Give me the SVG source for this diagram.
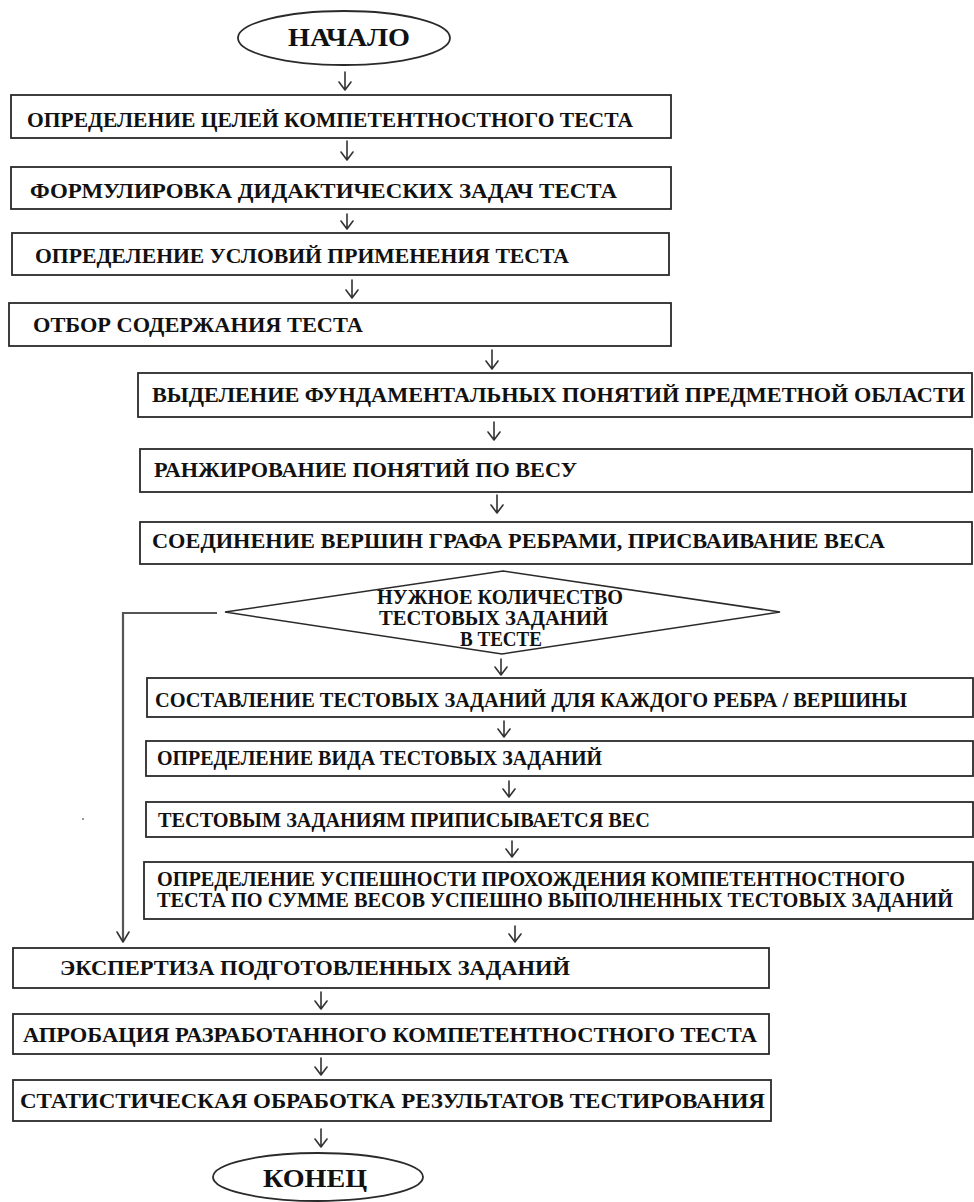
<svg xmlns="http://www.w3.org/2000/svg" width="974" height="1202" viewBox="0 0 974 1202">
<style>
.box{fill:#fff;stroke:#2a2a2a;stroke-width:1.8}
.t{font-family:'Liberation Serif','DejaVu Serif','Times New Roman',serif;font-weight:bold;fill:#111}
.s22{font-size:22px}
.s20{font-size:20px}
.s25{font-size:25px}
.arr{fill:none;stroke:#333;stroke-width:1.6;stroke-linecap:round;stroke-linejoin:round}
.fb{fill:none;stroke:#555;stroke-width:2.2}
</style>
<rect width="974" height="1202" fill="#fff"/>

<g id="connectors">
<path class="arr" d="M345,72 V90 M339,82 L345,90 L351,82"/>
<path class="arr" d="M347,141 V160 M341,152 L347,160 L353,152"/>
<path class="arr" d="M347,214 V229 M341,221 L347,229 L353,221"/>
<path class="arr" d="M352,280 V298 M346,290 L352,298 L358,290"/>
<path class="arr" d="M492,350 V369 M486,361 L492,369 L498,361"/>
<path class="arr" d="M494,422 V440 M488,432 L494,440 L500,432"/>
<path class="arr" d="M497,495 V513 M491,505 L497,513 L503,505"/>
<path class="arr" d="M501,659 V675 M495,667 L501,675 L507,667"/>
<path class="arr" d="M504,721 V737 M498,729 L504,737 L510,729"/>
<path class="arr" d="M509,781 V797 M503,789 L509,797 L515,789"/>
<path class="arr" d="M512,841 V857 M506,849 L512,857 L518,849"/>
<path class="arr" d="M515,926 V942 M509,934 L515,942 L521,934"/>
<path class="arr" d="M321,992 V1009 M315,1001 L321,1009 L327,1001"/>
<path class="arr" d="M321,1058 V1075 M315,1067 L321,1075 L327,1067"/>
<path class="arr" d="M321,1129 V1147 M315,1139 L321,1147 L327,1139"/>
<polyline class="fb" points="217,613 123,613 123,941"/>
<path class="arr" d="M117,932 L123,942 L129,932"/>
</g>

<g id="start">
<ellipse cx="344" cy="38" rx="106" ry="27" fill="#fff" stroke="#2a2a2a" stroke-width="1.8"/>
<text class="t s25" x="288" y="46" textLength="122" lengthAdjust="spacingAndGlyphs">НАЧАЛО</text>
</g>

<g id="n1">
<rect class="box" x="11" y="95" width="660" height="43"/>
<text class="t s22" x="27" y="127" textLength="606" lengthAdjust="spacingAndGlyphs">ОПРЕДЕЛЕНИЕ ЦЕЛЕЙ КОМПЕТЕНТНОСТНОГО ТЕСТА</text>
</g>
<g id="n2">
<rect class="box" x="11" y="167" width="660" height="42"/>
<text class="t s22" x="30" y="198" textLength="587" lengthAdjust="spacingAndGlyphs">ФОРМУЛИРОВКА ДИДАКТИЧЕСКИХ ЗАДАЧ ТЕСТА</text>
</g>
<g id="n3">
<rect class="box" x="12" y="233" width="657" height="42"/>
<text class="t s22" x="35" y="263" textLength="534" lengthAdjust="spacingAndGlyphs">ОПРЕДЕЛЕНИЕ УСЛОВИЙ ПРИМЕНЕНИЯ ТЕСТА</text>
</g>
<g id="n4">
<rect class="box" x="9" y="303" width="662" height="43"/>
<text class="t s22" x="33" y="332" textLength="330" lengthAdjust="spacingAndGlyphs">ОТБОР СОДЕРЖАНИЯ ТЕСТА</text>
</g>
<g id="n5">
<rect class="box" x="138" y="373" width="834" height="44"/>
<text class="t s22" x="152" y="402" textLength="813" lengthAdjust="spacingAndGlyphs">ВЫДЕЛЕНИЕ ФУНДАМЕНТАЛЬНЫХ ПОНЯТИЙ ПРЕДМЕТНОЙ ОБЛАСТИ</text>
</g>
<g id="n6">
<rect class="box" x="140" y="449" width="832" height="43"/>
<text class="t s22" x="154" y="477" textLength="423" lengthAdjust="spacingAndGlyphs">РАНЖИРОВАНИЕ ПОНЯТИЙ ПО ВЕСУ</text>
</g>
<g id="n7">
<rect class="box" x="140" y="522" width="832" height="42"/>
<text class="t s22" x="152" y="548" textLength="733" lengthAdjust="spacingAndGlyphs">СОЕДИНЕНИЕ ВЕРШИН ГРАФА РЕБРАМИ, ПРИСВАИВАНИЕ ВЕСА</text>
</g>
<g id="decision">
<polygon points="225,612 503,571 780,612 502,654" fill="#fff" stroke="#2a2a2a" stroke-width="1.5"/>
<text class="t s20" x="377" y="604" textLength="246" lengthAdjust="spacingAndGlyphs">НУЖНОЕ КОЛИЧЕСТВО</text>
<text class="t s20" x="379" y="625" textLength="229" lengthAdjust="spacingAndGlyphs">ТЕСТОВЫХ ЗАДАНИЙ</text>
<text class="t s20" x="460" y="646" textLength="82" lengthAdjust="spacingAndGlyphs">В ТЕСТЕ</text>
</g>
<g id="n8">
<rect class="box" x="147" y="678" width="826" height="39"/>
<text class="t s20" x="155" y="707" textLength="752" lengthAdjust="spacingAndGlyphs">СОСТАВЛЕНИЕ ТЕСТОВЫХ ЗАДАНИЙ ДЛЯ КАЖДОГО РЕБРА / ВЕРШИНЫ</text>
</g>
<g id="n9">
<rect class="box" x="146" y="741" width="827" height="35"/>
<text class="t s20" x="157" y="765" textLength="445" lengthAdjust="spacingAndGlyphs">ОПРЕДЕЛЕНИЕ ВИДА ТЕСТОВЫХ ЗАДАНИЙ</text>
</g>
<g id="n10">
<rect class="box" x="146" y="802" width="827" height="35"/>
<text class="t s20" x="158" y="827" textLength="492" lengthAdjust="spacingAndGlyphs">ТЕСТОВЫМ ЗАДАНИЯМ ПРИПИСЫВАЕТСЯ ВЕС</text>
</g>
<g id="n11">
<rect class="box" x="144" y="862" width="829" height="57"/>
<text class="t s20" x="157" y="886" textLength="748" lengthAdjust="spacingAndGlyphs">ОПРЕДЕЛЕНИЕ УСПЕШНОСТИ ПРОХОЖДЕНИЯ КОМПЕТЕНТНОСТНОГО</text>
<text class="t s20" x="157" y="907" textLength="796" lengthAdjust="spacingAndGlyphs">ТЕСТА ПО СУММЕ ВЕСОВ УСПЕШНО ВЫПОЛНЕННЫХ ТЕСТОВЫХ ЗАДАНИЙ</text>
</g>
<g id="n12">
<rect class="box" x="13" y="948" width="756" height="40"/>
<text class="t s22" x="60" y="975" textLength="510" lengthAdjust="spacingAndGlyphs">ЭКСПЕРТИЗА ПОДГОТОВЛЕННЫХ ЗАДАНИЙ</text>
</g>
<g id="n13">
<rect class="box" x="13" y="1014" width="756" height="40"/>
<text class="t s22" x="23" y="1042" textLength="734" lengthAdjust="spacingAndGlyphs">АПРОБАЦИЯ РАЗРАБОТАННОГО КОМПЕТЕНТНОСТНОГО ТЕСТА</text>
</g>
<g id="n14">
<rect class="box" x="13" y="1080" width="758" height="41"/>
<text class="t s22" x="20" y="1108" textLength="745" lengthAdjust="spacingAndGlyphs">СТАТИСТИЧЕСКАЯ ОБРАБОТКА РЕЗУЛЬТАТОВ ТЕСТИРОВАНИЯ</text>
</g>
<g id="end">
<ellipse cx="318" cy="1177" rx="105" ry="24" fill="#fff" stroke="#2a2a2a" stroke-width="1.8"/>
<text class="t s25" x="263" y="1187" textLength="104" lengthAdjust="spacingAndGlyphs">КОНЕЦ</text>
</g>
<circle cx="83" cy="819" r="1" fill="#777"/>
</svg>
